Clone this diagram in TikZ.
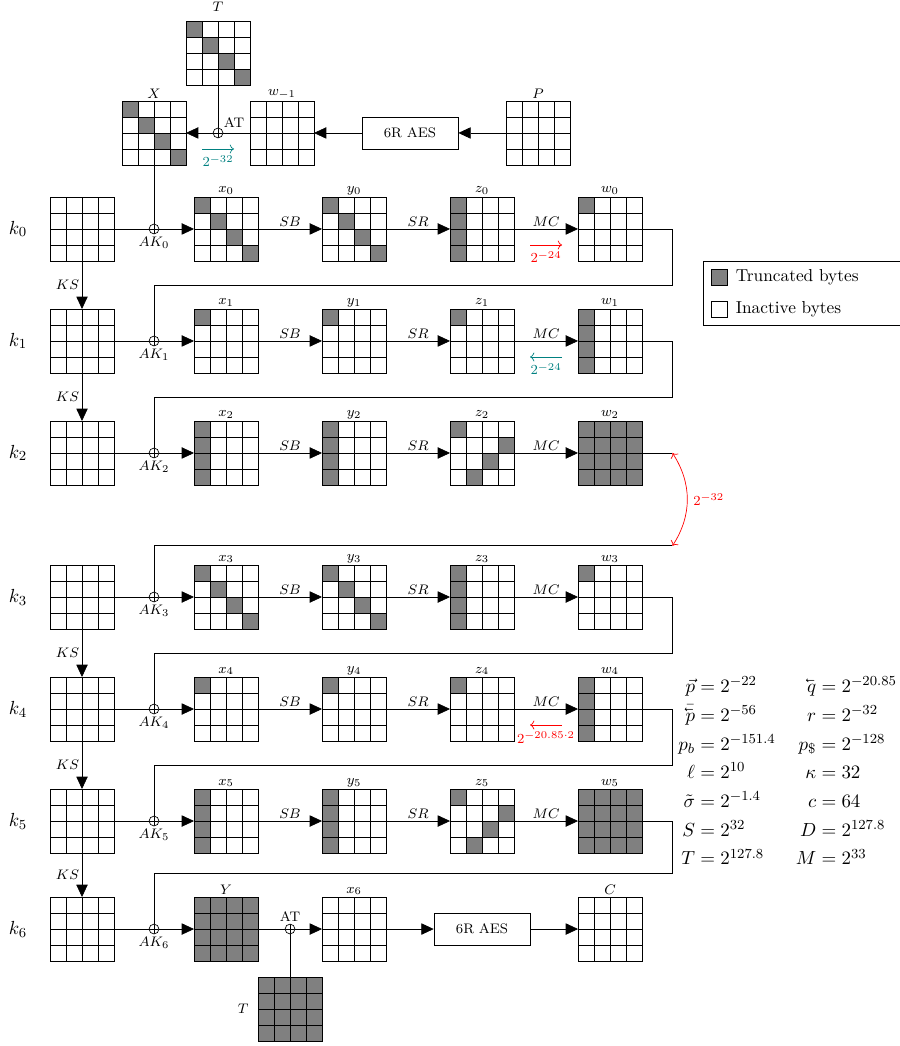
\documentclass[tikz,border=0pt]{standalone}
\usetikzlibrary{arrows.meta,positioning,calc}
\definecolor{trGray}{RGB}{128,128,128}
\definecolor{difTeal}{RGB}{0,128,128}
% one 4x4 AES state: [options]{name}{position}{label}
\newcommand{\aesstate}[4][]{%
  \node[stt,#1,label={[lbl]above:#4}] (#2) at (#3) {};
  \draw[shift={(#2.south west)},step=1] (0,0) grid (4,4);}
% shaded cells of a state: {name}{col/row,...}
\newcommand{\cells}[2]{%
  \foreach \cx/\cy in {#2} {\filldraw[fill=trGray] ([shift={(\cx,-\cy)}]#1.north west) rectangle ++(1,-1);}}
% small left arrow accent
\newcommand{\lvec}[1]{\reflectbox{$\vec{\reflectbox{$#1$}}$}}

\begin{document}
\begin{tikzpicture}[x=0.325cm,y=0.325cm,
      stt/.style={draw,fill=white,minimum size=1.3cm,inner sep=0pt,outer sep=0pt},
      lbl/.style={font=\footnotesize,inner sep=1pt},
      op/.style={font=\footnotesize,inner sep=1.5pt},
      nlbl/.style={font=\footnotesize,inner sep=1pt},
      big/.style={font=\fontsize{10.95}{13.6}\selectfont},
      xr/.style={circle,draw,fill=white,minimum size=2mm,inner sep=0pt,
                 path picture={\draw (path picture bounding box.north) -- (path picture bounding box.south)
                                     (path picture bounding box.west) -- (path picture bounding box.east);}},
      aesbox/.style={draw,fill=white,minimum width=1.95cm,minimum height=0.65cm,font=\footnotesize},
      keybox/.style={draw,minimum size=0.325cm,inner sep=0pt},
      arr/.style={-{Triangle[length=2.5mm,width=2.3mm]}}]
    \useasboundingbox (-14.125,14.31) rectangle (42.06,-51.06);

    % top: plaintext side
    \aesstate[label={[lbl,label distance=1.6mm]above:$T$}]{T}{-0.5,11}{}
    \cells{T}{0/0,1/1,2/2,3/3}
    \aesstate{X}{-4.5,6}{$X$}
    \cells{X}{0/0,1/1,2/2,3/3}
    \aesstate{wm}{3.5,6}{$w_{-1}$}
    \aesstate{P}{19.5,6}{$P$}
    \node[aesbox] (aes0) at (11.5,6) {6R AES};
    \node[xr,label={[font=\footnotesize,inner sep=1pt]above right:AT}] (at0) at (-0.5,6) {};
    \draw[arr] (P.west) -- (aes0.east);
    \draw[arr] (aes0.west) -- (wm.east);
    \draw (wm.west) -- (at0);
    \draw[arr] (at0) -- (X.east);
    \draw (T.south) -- (at0);
    \coordinate (t0a) at ($(at0)+(-1,-1)$);
    \coordinate (t0b) at ($(at0)+(1,-1)$);
    \draw[difTeal,->] (t0a) -- node[below=2.5pt,nlbl]{$2^{-32}$} (t0b);

    % round 0
    \aesstate{k0}{-9,0}{}
    \node[big] (kl0) at (-13,0) {$k_0$};
    \node[xr,label={[op]below:$AK_0$}] (ak0) at (-4.5,0) {};
    \aesstate{x0}{0,0}{$x_0$}
    \cells{x0}{0/0,1/1,2/2,3/3}
    \aesstate{y0}{8,0}{$y_0$}
    \cells{y0}{0/0,1/1,2/2,3/3}
    \aesstate{z0}{16,0}{$z_0$}
    \cells{z0}{0/0,0/1,0/2,0/3}
    \aesstate{w0}{24,0}{$w_0$}
    \cells{w0}{0/0}
    \draw (X.south) -- (ak0);
    \draw (k0.east) -- (ak0);
    \draw[arr] (ak0) -- (x0.west);
    \draw[arr] (x0.east) -- node[above,op]{$SB$} (y0.west);
    \draw[arr] (y0.east) -- node[above,op]{$SR$} (z0.west);
    \draw[arr] (z0.east) -- node[above,op]{$MC$} (w0.west);
    \coordinate (d0a) at ($(z0)+(3,-1)$);
    \coordinate (d0b) at ($(z0)+(5,-1)$);
    \draw[red,->] (d0a) -- node[below=2.5pt,nlbl]{$2^{-24}$} (d0b);

    % round 1
    \aesstate{k1}{-9,-7}{}
    \node[big] (kl1) at (-13,-7) {$k_1$};
    \node[xr,label={[op]below:$AK_1$}] (ak1) at (-4.5,-7) {};
    \aesstate{x1}{0,-7}{$x_1$}
    \cells{x1}{0/0}
    \aesstate{y1}{8,-7}{$y_1$}
    \cells{y1}{0/0}
    \aesstate{z1}{16,-7}{$z_1$}
    \cells{z1}{0/0}
    \aesstate{w1}{24,-7}{$w_1$}
    \cells{w1}{0/0,0/1,0/2,0/3}
    \draw[arr] (k0.south) -- node[left,op]{$KS$} (k1.north);
    \draw (w0.east) -- ++(1.9,0) |- ($(ak1)+(0,3.5)$) -- (ak1);
    \draw (k1.east) -- (ak1);
    \draw[arr] (ak1) -- (x1.west);
    \draw[arr] (x1.east) -- node[above,op]{$SB$} (y1.west);
    \draw[arr] (y1.east) -- node[above,op]{$SR$} (z1.west);
    \draw[arr] (z1.east) -- node[above,op]{$MC$} (w1.west);
    \coordinate (d1a) at ($(z1)+(5,-1)$);
    \coordinate (d1b) at ($(z1)+(3,-1)$);
    \draw[difTeal,->] (d1a) -- node[below=2.5pt,nlbl]{$2^{-24}$} (d1b);

    % round 2
    \aesstate{k2}{-9,-14}{}
    \node[big] (kl2) at (-13,-14) {$k_2$};
    \node[xr,label={[op]below:$AK_2$}] (ak2) at (-4.5,-14) {};
    \aesstate{x2}{0,-14}{$x_2$}
    \cells{x2}{0/0,0/1,0/2,0/3}
    \aesstate{y2}{8,-14}{$y_2$}
    \cells{y2}{0/0,0/1,0/2,0/3}
    \aesstate{z2}{16,-14}{$z_2$}
    \cells{z2}{0/0,3/1,2/2,1/3}
    \aesstate[fill=trGray]{w2}{24,-14}{$w_2$}
    \draw[arr] (k1.south) -- node[left,op]{$KS$} (k2.north);
    \draw (w1.east) -- ++(1.9,0) |- ($(ak2)+(0,3.5)$) -- (ak2);
    \draw (k2.east) -- (ak2);
    \draw[arr] (ak2) -- (x2.west);
    \draw[arr] (x2.east) -- node[above,op]{$SB$} (y2.west);
    \draw[arr] (y2.east) -- node[above,op]{$SR$} (z2.west);
    \draw[arr] (z2.east) -- node[above,op]{$MC$} (w2.west);
    \draw (w2.east) -- ++(1.9,0) coordinate (e2);

    % round 3
    \aesstate{k3}{-9,-23}{}
    \node[big] (kl3) at (-13,-23) {$k_3$};
    \node[xr,label={[op]below:$AK_3$}] (ak3) at (-4.5,-23) {};
    \aesstate{x3}{0,-23}{$x_3$}
    \cells{x3}{0/0,1/1,2/2,3/3}
    \aesstate{y3}{8,-23}{$y_3$}
    \cells{y3}{0/0,1/1,2/2,3/3}
    \aesstate{z3}{16,-23}{$z_3$}
    \cells{z3}{0/0,0/1,0/2,0/3}
    \aesstate{w3}{24,-23}{$w_3$}
    \cells{w3}{0/0}
    \draw (ak3) |- (27.9,-19.8) coordinate (b3);
    \draw[red,<->] (e2) to[bend left=33] node[right,nlbl,xshift=0.8mm]{$2^{-32}$} (b3);
    \draw (k3.east) -- (ak3);
    \draw[arr] (ak3) -- (x3.west);
    \draw[arr] (x3.east) -- node[above,op]{$SB$} (y3.west);
    \draw[arr] (y3.east) -- node[above,op]{$SR$} (z3.west);
    \draw[arr] (z3.east) -- node[above,op]{$MC$} (w3.west);

    % round 4
    \aesstate{k4}{-9,-30}{}
    \node[big] (kl4) at (-13,-30) {$k_4$};
    \node[xr,label={[op]below:$AK_4$}] (ak4) at (-4.5,-30) {};
    \aesstate{x4}{0,-30}{$x_4$}
    \cells{x4}{0/0}
    \aesstate{y4}{8,-30}{$y_4$}
    \cells{y4}{0/0}
    \aesstate{z4}{16,-30}{$z_4$}
    \cells{z4}{0/0}
    \coordinate (d4a) at ($(z4)+(5,-1)$);
    \coordinate (d4b) at ($(z4)+(3,-1)$);
    \draw[red,->] (d4a) -- node[below=2.5pt,nlbl]{$2^{-20.85\cdot 2}$} (d4b);
    \aesstate{w4}{24,-30}{$w_4$}
    \cells{w4}{0/0,0/1,0/2,0/3}
    \draw[arr] (k3.south) -- node[left,op]{$KS$} (k4.north);
    \draw (w3.east) -- ++(1.9,0) |- ($(ak4)+(0,3.5)$) -- (ak4);
    \draw (k4.east) -- (ak4);
    \draw[arr] (ak4) -- (x4.west);
    \draw[arr] (x4.east) -- node[above,op]{$SB$} (y4.west);
    \draw[arr] (y4.east) -- node[above,op]{$SR$} (z4.west);
    \draw[arr] (z4.east) -- node[above,op]{$MC$} (w4.west);

    % round 5
    \aesstate{k5}{-9,-37}{}
    \node[big] (kl5) at (-13,-37) {$k_5$};
    \node[xr,label={[op]below:$AK_5$}] (ak5) at (-4.5,-37) {};
    \aesstate{x5}{0,-37}{$x_5$}
    \cells{x5}{0/0,0/1,0/2,0/3}
    \aesstate{y5}{8,-37}{$y_5$}
    \cells{y5}{0/0,0/1,0/2,0/3}
    \aesstate{z5}{16,-37}{$z_5$}
    \cells{z5}{0/0,3/1,2/2,1/3}
    \aesstate[fill=trGray]{w5}{24,-37}{$w_5$}
    \draw[arr] (k4.south) -- node[left,op]{$KS$} (k5.north);
    \draw (w4.east) -- ++(1.9,0) |- ($(ak5)+(0,3.5)$) -- (ak5);
    \draw (k5.east) -- (ak5);
    \draw[arr] (ak5) -- (x5.west);
    \draw[arr] (x5.east) -- node[above,op]{$SB$} (y5.west);
    \draw[arr] (y5.east) -- node[above,op]{$SR$} (z5.west);
    \draw[arr] (z5.east) -- node[above,op]{$MC$} (w5.west);

    % round 6: ciphertext side
    \aesstate{k6}{-9,-43.75}{}
    \node[big] (kl6) at (-13,-43.75) {$k_6$};
    \node[xr,label={[op]below:$AK_6$}] (ak6) at (-4.5,-43.75) {};
    \aesstate[fill=trGray]{Y}{0,-43.75}{$Y$}
    \node[xr,label={[font=\footnotesize,inner sep=1pt]above:AT}] (at1) at (4,-43.75) {};
    \aesstate{x6}{8,-43.75}{$x_6$}
    \node[aesbox] (aes1) at (16,-43.75) {6R AES};
    \aesstate{C}{24,-43.75}{$C$}
    \aesstate[fill=trGray,label={[lbl,label distance=1.5mm]left:$T$}]{Tb}{4,-48.75}{}
    \draw[arr] (k5.south) -- node[left,op]{$KS$} (k6.north);
    \draw (w5.east) -- ++(1.9,0) |- ($(ak6)+(0,3.5)$) -- (ak6);
    \draw (k6.east) -- (ak6);
    \draw[arr] (ak6) -- (Y.west);
    \draw (Y.east) -- (at1);
    \draw (Tb.north) -- (at1);
    \draw[arr] (at1) -- (x6.west);
    \draw[arr] (x6.east) -- (aes1.west);
    \draw[arr] (aes1.east) -- (C.west);

    % legend
    \node[draw,anchor=north west,minimum width=5cm,minimum height=1.3cm] (legend) at (29.8,-2) {};
    \node[keybox,fill=trGray] (keyT) at (30.85,-3) {};
    \node[right=1pt of keyT] (txtT) {Truncated bytes};
    \node[keybox,fill=white] (keyI) at (30.85,-5) {};
    \node[right=1pt of keyI] (txtI) {Inactive bytes};

    % parameters
    \node[big,anchor=west,inner sep=0pt] (prm) at (28.25,-34) {\renewcommand{\arraystretch}{1.22}%
      \begin{tabular}{@{}r@{${}={}$}l@{\hspace{0.41cm}}r@{${}={}$}l@{}}
        $\vec{p}$ & $2^{-22}$ & $\lvec{q}$ & $2^{-20.85}$\\
        $\bar{\lvec{p}}$ & $2^{-56}$ & $r$ & $2^{-32}$\\
        $p_b$ & $2^{-151.4}$ & $p_{\$}$ & $2^{-128}$\\
        $\ell$ & $2^{10}$ & $\kappa$ & $32$\\
        $\tilde{\sigma}$ & $2^{-1.4}$ & $c$ & $64$\\
        $S$ & $2^{32}$ & $D$ & $2^{127.8}$\\
        $T$ & $2^{127.8}$ & $M$ & $2^{33}$
      \end{tabular}};
  \end{tikzpicture}
\end{document}
